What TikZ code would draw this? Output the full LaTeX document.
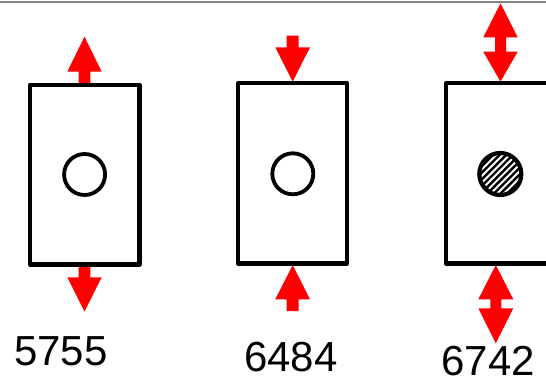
\documentclass[tikz,border=0pt]{standalone}
\usepackage{fontspec}
\setmainfont{Liberation Sans}
\begin{document}
\begin{tikzpicture}[x=1pt,y=-1pt,
  box/.style={draw=black,line width=4.2pt,line join=round,rectangle,inner sep=0pt,fill=none},
  hole/.style={draw=black,line width=3.8pt,circle,inner sep=0pt,minimum size=41pt},
  force/.style={fill=red,draw=none},
  lab/.style={anchor=base,inner sep=0pt,font=\fontsize{42}{50}\selectfont}]
\path[use as bounding box] (0,0) rectangle (546,379);
\clip (0,0) rectangle (546,379);
% top rule
\draw[line width=2pt,color=black!48] (0,2) -- (546,2);
% ---------- arrows ----------
% box 1: up (top), down (bottom)
\fill[force] (84.5,36.7) -- (101.7,71.7) -- (90.4,71.7) -- (90.4,86) -- (78.6,86) -- (78.6,71.7) -- (67.3,71.7) -- cycle;
\fill[force] (84.5,311.7) -- (101.7,277.3) -- (90.4,277.3) -- (90.4,263) -- (78.6,263) -- (78.6,277.3) -- (67.3,277.3) -- cycle;
% box 2: down (top), up (bottom)
\fill[force] (292.7,81.7) -- (310,47.3) -- (298.7,47.3) -- (298.7,35.7) -- (286.7,35.7) -- (286.7,47.3) -- (275.3,47.3) -- cycle;
\fill[force] (292.7,265) -- (310,299.3) -- (298.7,299.3) -- (298.7,311) -- (286.7,311) -- (286.7,299.3) -- (275.3,299.3) -- cycle;
% box 3: double arrows
\fill[force] (500.5,3.3) -- (517.7,37.3) -- (506,37.3) -- (506,51.7) -- (517.7,51.7) -- (500.5,81.7)
  -- (483.3,51.7) -- (495,51.7) -- (495,37.3) -- (483.3,37.3) -- cycle;
\fill[force] (495.8,265) -- (513.3,299.3) -- (501.3,299.3) -- (501.3,308.3) -- (513.3,308.3) -- (495.8,343.3)
  -- (478.3,308.3) -- (490.3,308.3) -- (490.3,299.3) -- (478.3,299.3) -- cycle;
% ---------- boxes ----------
\node[box,minimum width=109.5pt,minimum height=179.5pt] (b1) at (84.75,174.75) {};
\node[box,minimum width=109pt,minimum height=180.2pt] (b2) at (292.5,173.4) {};
\node[box,minimum width=109pt,minimum height=180.2pt] (b3) at (500.5,173.4) {};
% ---------- holes ----------
\node[hole] (c1) at (84.6,174.5) {};
\node[hole] (c2) at (292.8,173.8) {};
\begin{scope}
  \clip (500.3,174) circle (20pt);
  \foreach \k in {-7,...,7}
    \draw[line width=2.4pt] (500.3+\k*6.6-30,174+30) -- (500.3+\k*6.6+30,174-30);
\end{scope}
\node[hole,line width=4.2pt,minimum size=42pt] (c3) at (500.3,174) {};
% ---------- labels ----------
\node[lab] (l1) at (60.8,365.7) {5755};
\node[lab] (l2) at (290.8,371) {6484};
\node[lab] (l3) at (488.3,375.2) {6742};
\end{tikzpicture}
\end{document}
